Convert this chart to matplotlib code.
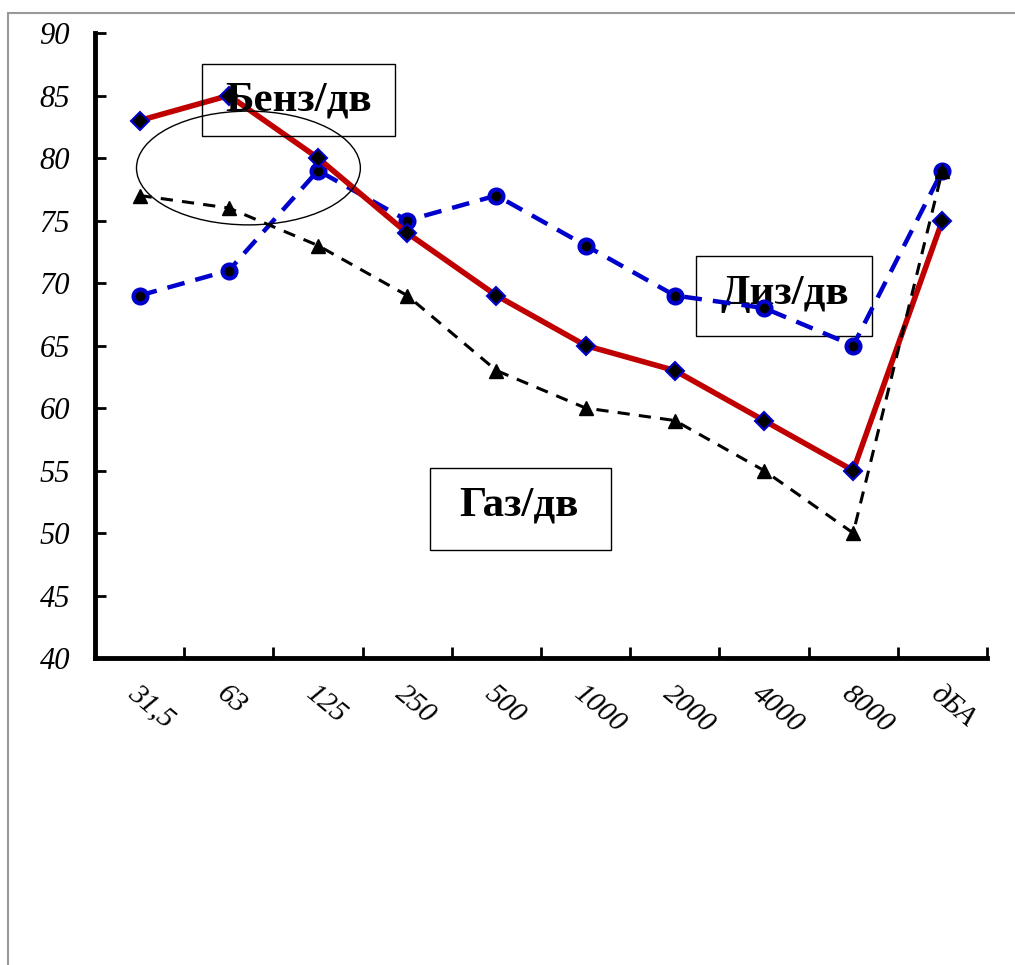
import matplotlib
matplotlib.use("Agg")
import matplotlib.pyplot as plt
from matplotlib.patches import Ellipse, Rectangle

# --- Данные ---
freq_labels = ["31,5", "63", "125", "250", "500", "1000", "2000", "4000", "8000", "дБА"]
benz = [83, 85, 80, 74, 69, 65, 63, 59, 55, 75]
diz = [69, 71, 79, 75, 77, 73, 69, 68, 65, 79]
gaz = [77, 76, 73, 69, 63, 60, 59, 55, 50, 79]
y_ticks = list(range(40, 95, 5))

plt.rcParams['font.family'] = ['Liberation Serif', 'DejaVu Serif']

fig = plt.figure(figsize=(10.15, 9.65), dpi=100)
ax = fig.add_axes([0.0936, 0.3181, 0.8788, 0.6477])

x = list(range(len(freq_labels)))

# --- Линии ---
ax.plot(x, diz, color='#0000CC', lw=3.2, ls=(0, (4, 2.5)), marker='o', ms=10,
        mfc='black', mec='#0000CC', mew=3, zorder=3)
ax.plot(x, benz, color='#C00000', lw=4, marker='D', ms=9,
        mfc='black', mec='#0000CC', mew=1.5, zorder=4)
ax.plot(x, gaz, color='black', lw=2.2, ls=(0, (4, 3)), marker='^', ms=10,
        mfc='black', mec='black', zorder=5)

# --- Оси ---
ax.set_xlim(-0.5, len(x) - 0.5)
ax.set_ylim(40, 90)
ax.set_yticks(y_ticks)
ax.set_yticklabels([str(v) for v in y_ticks], fontsize=22, style='italic')
ax.set_xticks([i + 0.5 for i in x])
ax.set_xticklabels([])
ax.set_xticks(x, minor=True)
ax.set_xticklabels(freq_labels, minor=True, fontsize=21, style='italic',
                   rotation=-40, ha='left', va='top', rotation_mode='anchor')
ax.tick_params(axis='x', which='minor', length=0, pad=16)
ax.tick_params(axis='x', which='major', direction='in', length=8, width=2)
ax.tick_params(axis='y', direction='in', length=8, width=2, pad=18)

for s in ['top', 'right']:
    ax.spines[s].set_visible(False)
for s in ['left', 'bottom']:
    ax.spines[s].set_linewidth(3.5)

# --- Подписи в рамках ---
labels = [
    ("Бенз/дв", 1.78, 84.64, (0.70, 81.76, 2.16, 5.76), 6),
    ("Диз/дв", 7.23, 69.1, (6.24, 65.76, 1.97, 6.40), 2),
    ("Газ/дв", 4.25, 52.2, (3.26, 48.64, 2.02, 6.56), 2),
]
for txt, tx, ty, (bx, by, bw, bh), z in labels:
    ax.add_patch(Rectangle((bx, by), bw, bh, fc='none', ec='black', lw=1,
                           zorder=z, clip_on=False))
    ax.text(tx, ty, txt, fontsize=31, fontweight='bold', ha='center',
            va='center', zorder=z)

ax.add_patch(Ellipse((1.22, 79.2), 2.51, 9.1, fc='none', ec='black', lw=1, zorder=6))

# внешняя рамка
fig.patches.append(Rectangle((8 / 1015, -0.05), 1.1, 1 - 13 / 965 + 0.05,
                             transform=fig.transFigure, fc='none',
                             ec='#999999', lw=1.5))

fig.savefig("out.png", dpi=100)
